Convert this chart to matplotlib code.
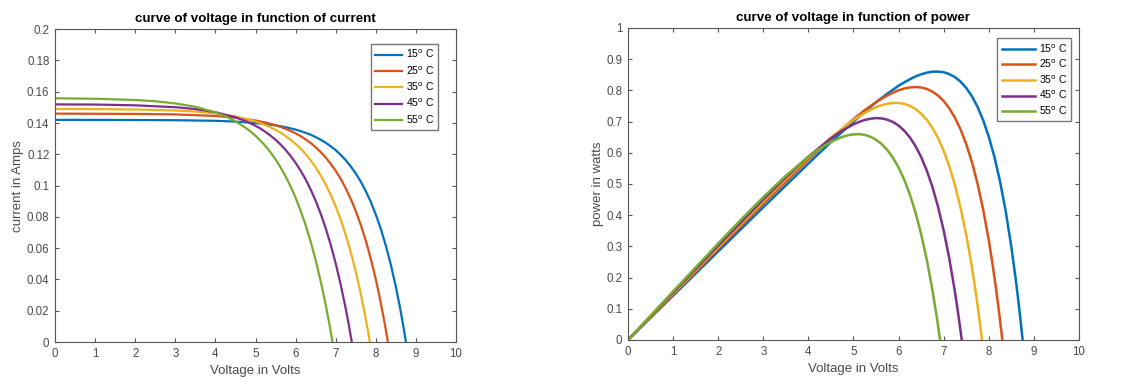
import matplotlib
matplotlib.use("Agg")
import matplotlib.pyplot as plt
from matplotlib.ticker import FuncFormatter, MultipleLocator

plt.rcParams['font.family'] = ['Liberation Sans', 'DejaVu Sans']

labels = ['15$^{\\mathrm{o}}$ C', '25$^{\\mathrm{o}}$ C', '35$^{\\mathrm{o}}$ C',
          '45$^{\\mathrm{o}}$ C', '55$^{\\mathrm{o}}$ C']
colors = ['#0072BD', '#D95319', '#EDB120', '#7E2F8E', '#77AC30']

# 15 C
v15 = [0, 1, 2, 3, 4, 4.5, 5, 5.5, 5.75, 6, 6.125, 6.25, 6.375, 6.5, 6.625, 6.75, 6.875, 7, 7.125,
       7.25, 7.375, 7.5, 7.625, 7.75, 7.875, 8, 8.125, 8.25, 8.375, 8.5, 8.6, 8.65, 8.7, 8.75]
i15 = [0.1420, 0.1420, 0.1419, 0.1418, 0.1414, 0.1409, 0.1400, 0.1385, 0.1373, 0.1358, 0.1348,
       0.1337, 0.1325, 0.1310, 0.1293, 0.1274, 0.1251, 0.1226, 0.1196, 0.1162, 0.1122, 0.1077,
       0.1025, 0.0964, 0.0895, 0.0814, 0.0722, 0.0615, 0.0493, 0.0351, 0.0223, 0.0152, 0.0078, 0.0]
p15 = [0.0, 0.142, 0.2838, 0.4254, 0.5656, 0.6341, 0.700, 0.7618, 0.7895, 0.8148, 0.8257,
       0.8356, 0.8447, 0.8515, 0.8566, 0.860, 0.8601, 0.8582, 0.8521, 0.8425, 0.8277, 0.8078,
       0.7813, 0.7471, 0.7045, 0.6512, 0.5864, 0.5074, 0.4125, 0.2984, 0.1915, 0.1315, 0.0679, 0.0]
# 25 C
v25 = [0, 1, 2, 3, 4, 4.5, 5, 5.25, 5.5, 5.75, 5.875, 6, 6.125, 6.25, 6.375, 6.5, 6.625, 6.75,
       6.875, 7, 7.125, 7.25, 7.375, 7.5, 7.625, 7.75, 7.875, 8, 8.075, 8.15, 8.225, 8.3]
i25 = [0.1460, 0.1459, 0.1458, 0.1455, 0.1445, 0.1434, 0.1416, 0.1403, 0.1386, 0.1363, 0.1349,
       0.1334, 0.1316, 0.1295, 0.1272, 0.1245, 0.1214, 0.1179, 0.1139, 0.1094, 0.1042, 0.0982,
       0.0914, 0.0837, 0.0748, 0.0647, 0.0531, 0.0399, 0.0311, 0.0215, 0.0112, 0.0]
p25 = [0.0, 0.1459, 0.2916, 0.4365, 0.578, 0.6453, 0.708, 0.7366, 0.7623, 0.7837, 0.7927,
       0.8004, 0.8059, 0.8094, 0.8107, 0.8093, 0.8045, 0.7958, 0.7833, 0.7658, 0.7421, 0.712,
       0.6743, 0.6278, 0.5703, 0.5014, 0.4182, 0.3192, 0.2511, 0.1752, 0.0921, 0.0]
# 35 C
v35 = [0, 1, 2, 3, 3.5, 4, 4.5, 5, 5.25, 5.375, 5.5, 5.625, 5.75, 5.875, 6, 6.125, 6.25, 6.375,
       6.5, 6.625, 6.75, 6.875, 7, 7.125, 7.25, 7.375, 7.5, 7.6, 7.7, 7.775, 7.85]
i35 = [0.1490, 0.1489, 0.1486, 0.1480, 0.1473, 0.1461, 0.1442, 0.1410, 0.1386, 0.1372, 0.1356,
       0.1338, 0.1317, 0.1293, 0.1266, 0.1236, 0.1201, 0.1161, 0.1116, 0.1065, 0.1007, 0.0941,
       0.0866, 0.0781, 0.0684, 0.0574, 0.0449, 0.0337, 0.0212, 0.0110, 0.0]
p35 = [0.0, 0.1489, 0.2972, 0.444, 0.5156, 0.5844, 0.6489, 0.705, 0.7277, 0.7375, 0.7458,
       0.7526, 0.7573, 0.7596, 0.7596, 0.7570, 0.7506, 0.7401, 0.7254, 0.7056, 0.6797, 0.6470,
       0.6062, 0.5565, 0.4959, 0.4233, 0.3368, 0.2561, 0.1632, 0.0855, 0.0]
# 45 C
v45 = [0, 1, 2, 3, 3.5, 4, 4.5, 4.75, 5, 5.125, 5.25, 5.375, 5.5, 5.625, 5.75, 5.875, 6, 6.125,
       6.25, 6.375, 6.5, 6.625, 6.75, 6.875, 7, 7.125, 7.25, 7.33, 7.4]
i45 = [0.1519, 0.1518, 0.1513, 0.1501, 0.1489, 0.1469, 0.1436, 0.1413, 0.1382, 0.1364, 0.1343,
       0.1319, 0.1293, 0.1262, 0.1228, 0.1189, 0.1145, 0.1095, 0.1039, 0.0975, 0.0902, 0.0820,
       0.0727, 0.0621, 0.0501, 0.0365, 0.0212, 0.0103, 0.0]
p45 = [0.0, 0.1518, 0.3026, 0.4503, 0.5212, 0.5876, 0.6462, 0.6712, 0.691, 0.699, 0.7051,
       0.709, 0.7112, 0.7100, 0.7061, 0.6986, 0.687, 0.6707, 0.6494, 0.6215, 0.5863, 0.5432,
       0.4907, 0.4269, 0.3507, 0.2601, 0.1537, 0.0755, 0.0]
# 55 C
v55 = [0, 1, 2, 2.5, 3, 3.5, 4, 4.25, 4.5, 4.75, 4.875, 5, 5.125, 5.25, 5.375, 5.5, 5.625, 5.75,
       5.875, 6, 6.125, 6.25, 6.375, 6.5, 6.625, 6.75, 6.85, 6.92]
i55 = [0.1558, 0.1555, 0.1547, 0.1539, 0.1525, 0.1504, 0.1468, 0.1443, 0.1411, 0.1370, 0.1346,
       0.1318, 0.1287, 0.1252, 0.1212, 0.1167, 0.1116, 0.1059, 0.0994, 0.0921, 0.0839, 0.0746,
       0.0641, 0.0522, 0.0388, 0.0237, 0.0102, 0.0]
p55 = [0.0, 0.1555, 0.3094, 0.3848, 0.4575, 0.5264, 0.5872, 0.6133, 0.635, 0.6508, 0.6562,
       0.659, 0.6596, 0.6573, 0.6515, 0.6419, 0.6278, 0.6089, 0.5840, 0.5526, 0.5139, 0.4663,
       0.4086, 0.3393, 0.2571, 0.16, 0.0699, 0.0]

volts = [v15, v25, v35, v45, v55]
currents = [i15, i25, i35, i45, i55]
powers = [p15, p25, p35, p45, p55]

fig = plt.figure(figsize=(11.37, 3.82), dpi=100)
ax1 = fig.add_axes([0.0484, 0.1047, 0.3527, 0.819])
ax2 = fig.add_axes([0.5523, 0.110, 0.3967, 0.8168])

fmt = FuncFormatter(lambda v, p: '%g' % round(v, 4))
tick_col = '#555555'
lab_col = '#4a4a4a'

def style(ax, ymax, ystep):
    ax.set_xlim(0, 10)
    ax.set_ylim(0, ymax)
    ax.xaxis.set_major_locator(MultipleLocator(1))
    ax.yaxis.set_major_locator(MultipleLocator(ystep))
    ax.yaxis.set_major_formatter(fmt)
    ax.xaxis.set_major_formatter(fmt)
    ax.tick_params(direction='in', top=True, right=True, length=3, width=0.8,
                   colors=tick_col, labelsize=8.3, labelcolor=lab_col, pad=4)
    for s in ax.spines.values():
        s.set_color('#555555')
        s.set_linewidth(0.8)

for v, c, col, lab in zip(volts, currents, colors, labels):
    ax1.plot(v, c, color=col, lw=1.6, label=lab)
style(ax1, 0.2, 0.02)
ax1.set_title('curve of voltage in function of current', fontsize=9.6, fontweight='bold', pad=5)
ax1.set_xlabel('Voltage in Volts', fontsize=9.5, color=lab_col, labelpad=4)
ax1.set_ylabel('current in Amps', fontsize=9.5, color=lab_col, labelpad=2)
ax1.legend(loc='upper right', fontsize=7.5, frameon=True, fancybox=False, edgecolor='#555555',
           handlelength=2.6, borderpad=0.4, labelspacing=0.38, handletextpad=0.3,
           bbox_to_anchor=(0.968, 0.97))

for v, p, col, lab in zip(volts, powers, colors, labels):
    ax2.plot(v, p, color=col, lw=1.8, label=lab)
style(ax2, 1.0, 0.1)
ax2.set_title('curve of voltage in function of power', fontsize=9.6, fontweight='bold', pad=5)
ax2.set_xlabel('Voltage in Volts', fontsize=9.5, color=lab_col, labelpad=4)
ax2.set_ylabel('power in watts', fontsize=9.5, color=lab_col, labelpad=2)
ax2.legend(loc='upper right', fontsize=7.6, frameon=True, fancybox=False, edgecolor='#555555',
           handlelength=3.2, borderpad=0.4, labelspacing=0.3, handletextpad=0.3,
           bbox_to_anchor=(0.995, 0.985))

fig.savefig('out.png', dpi=100)
